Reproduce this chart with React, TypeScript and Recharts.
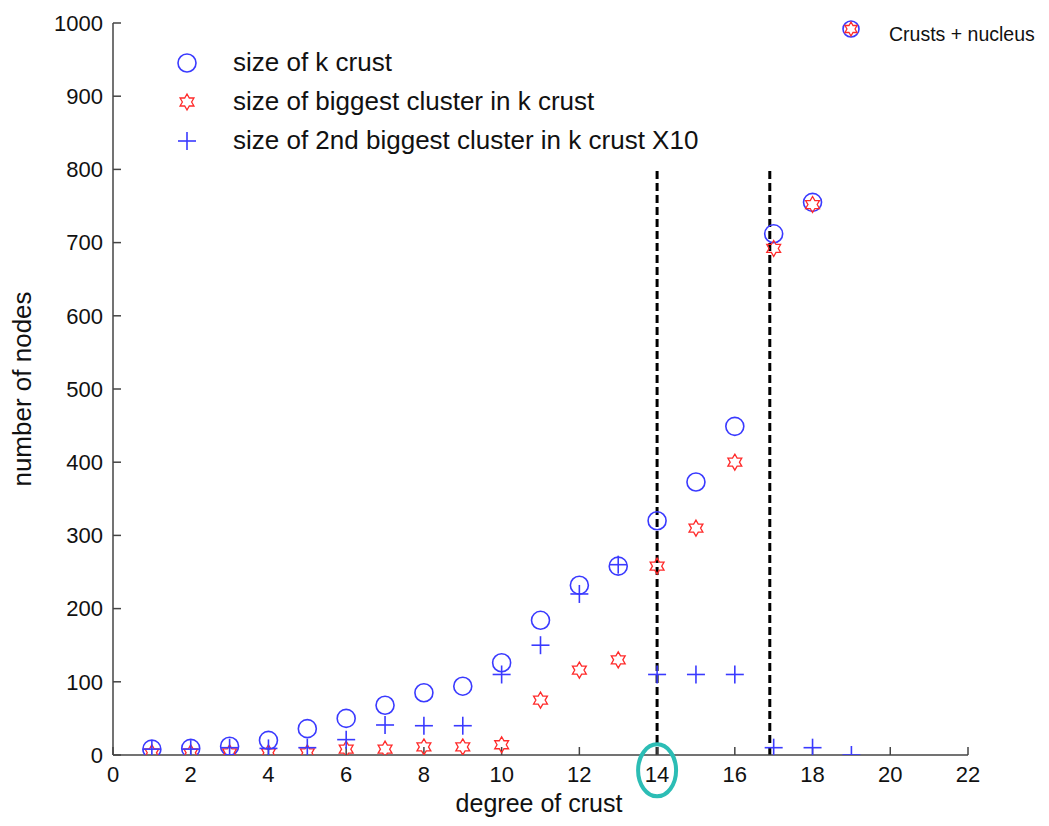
import React from 'react';
import { ScatterChart, Scatter, XAxis, YAxis, ReferenceLine, ReferenceDot } from 'recharts';

const degrees = [1, 2, 3, 4, 5, 6, 7, 8, 9, 10, 11, 12, 13, 14, 15, 16, 17, 18];
const crustSize = [8, 9, 12, 20, 36, 50, 68, 85, 94, 126, 184, 232, 258, 320, 373, 449, 712, 755];
const biggestCluster = [3, 3, 3, 3, 3, 8, 8, 11, 11, 14, 75, 116, 130, 258, 310, 400, 692, 752];
const secondDegrees = [1, 2, 3, 4, 5, 6, 7, 8, 9, 10, 11, 12, 13, 14, 15, 16, 17, 18, 19];
const secondClusterX10 = [8, 8, 10, 9, 10, 21, 41, 40, 40, 110, 150, 220, 260, 110, 110, 110, 10, 10, 0];
const xTicks = [0, 2, 4, 6, 8, 10, 12, 14, 16, 18, 20, 22];
const yTicks = [0, 100, 200, 300, 400, 500, 600, 700, 800, 900, 1000];
const legendLabels = [
  'size of k crust',
  'size of biggest cluster in k crust',
  'size of 2nd biggest cluster in k crust X10',
];
const sideLegendLabel = 'Crusts + nucleus';
const thresholds = [14, 16.9];

const crustData = degrees.map((d, i) => ({ x: d, y: crustSize[i] }));
const biggestData = degrees.map((d, i) => ({ x: d, y: biggestCluster[i] }));
const secondData = secondDegrees.map((d, i) => ({ x: d, y: secondClusterX10[i] }));

const BLUE = '#3a3aff';
const RED = '#ff2a2a';
const FONT = '"Liberation Sans", Arial, sans-serif';
const TEXT = '#111';

function starPath(cx: number, cy: number, R: number) {
  const r = R / Math.sqrt(3);
  const pts: string[] = [];
  for (let i = 0; i < 12; i++) {
    const a = -Math.PI / 2 + (i * Math.PI) / 6;
    const rad = i % 2 === 0 ? R : r;
    pts.push(`${(cx + rad * Math.cos(a)).toFixed(2)},${(cy + rad * Math.sin(a)).toFixed(2)}`);
  }
  return 'M' + pts.join('L') + 'Z';
}

const CircleMark = (p: any) => (
  <circle cx={p.cx} cy={p.cy} r={9} fill="none" stroke={BLUE} strokeWidth={1.6} />
);
const StarMark = (p: any) => (
  <path d={starPath(p.cx, p.cy, 8)} fill="none" stroke={RED} strokeWidth={1.3} />
);
const PlusMark = (p: any) => (
  <g stroke={BLUE} strokeWidth={1.6}>
    <line x1={p.cx - 9} y1={p.cy} x2={p.cx + 9} y2={p.cy} />
    <line x1={p.cx} y1={p.cy - 9} x2={p.cx} y2={p.cy + 9} />
  </g>
);

const TealEllipse = (p: any) => (
  <ellipse cx={p.cx} cy={p.cy} rx={19} ry={26} fill="none" stroke="#2cbdb5" strokeWidth={4} />
);

export default function App() {
  const tickStyle = { fontSize: 22, fill: TEXT, fontFamily: FONT };
  return (
    <div
      style={{
        position: 'relative',
        width: 1049,
        height: 826,
        margin: -8,
        background: '#fff',
        fontFamily: FONT,
      }}
    >
      <ScatterChart width={1049} height={826} margin={{ top: 23, right: 81, bottom: 31, left: 53 }}>
        <XAxis
          type="number"
          dataKey="x"
          domain={[0, 22]}
          ticks={xTicks}
          height={40}
          tickSize={-8}
          tickMargin={19}
          tick={tickStyle}
          axisLine={{ stroke: '#444', strokeWidth: 1.5 }}
          tickLine={{ stroke: '#444', strokeWidth: 1.5 }}
          allowDataOverflow
        />
        <YAxis
          type="number"
          dataKey="y"
          domain={[0, 1000]}
          ticks={yTicks}
          width={60}
          tickSize={-8}
          tickMargin={18}
          tick={tickStyle}
          axisLine={{ stroke: '#444', strokeWidth: 1.5 }}
          tickLine={{ stroke: '#444', strokeWidth: 1.5 }}
          allowDataOverflow
        />
        {thresholds.map((t) => (
          <ReferenceLine
            key={t}
            segment={[{ x: t, y: 0 }, { x: t, y: 800 }]}
            stroke="#000"
            strokeWidth={3}
            strokeDasharray="8 4"
            ifOverflow="visible"
          />
        ))}
        <Scatter data={crustData} shape={CircleMark} isAnimationActive={false} />
        <Scatter data={biggestData} shape={StarMark} isAnimationActive={false} />
        <Scatter data={secondData} shape={PlusMark} isAnimationActive={false} />
        <ReferenceDot x={14} y={-21} ifOverflow="visible" shape={TealEllipse} />
      </ScatterChart>
      <svg
        width={1049}
        height={826}
        style={{ position: 'absolute', left: 0, top: 0, pointerEvents: 'none' }}
      >
        <g fontFamily={FONT} fill={TEXT}>
          <circle cx={187} cy={63} r={9} fill="none" stroke={BLUE} strokeWidth={1.6} />
          <path d={starPath(187, 102, 8)} fill="none" stroke={RED} strokeWidth={1.3} />
          <g stroke={BLUE} strokeWidth={1.6}>
            <line x1={178} y1={141} x2={196} y2={141} />
            <line x1={187} y1={132} x2={187} y2={150} />
          </g>
          {legendLabels.map((l, i) => (
            <text key={l} x={233} y={62 + i * 39} fontSize={26} dominantBaseline="central">
              {l}
            </text>
          ))}
          <circle cx={851} cy={29} r={8} fill="none" stroke={BLUE} strokeWidth={1.6} />
          <path d={starPath(851, 29, 7)} fill="none" stroke={RED} strokeWidth={1.3} />
          <text x={889} y={34} fontSize={19.5} dominantBaseline="central">
            {sideLegendLabel}
          </text>
          <text x={539} y={812} fontSize={25} textAnchor="middle">
            degree of crust
          </text>
          <text
            x={22}
            y={389}
            fontSize={26}
            textAnchor="middle"
            dominantBaseline="central"
            transform="rotate(-90 22 389)"
          >
            number of nodes
          </text>
        </g>
      </svg>
    </div>
  );
}
